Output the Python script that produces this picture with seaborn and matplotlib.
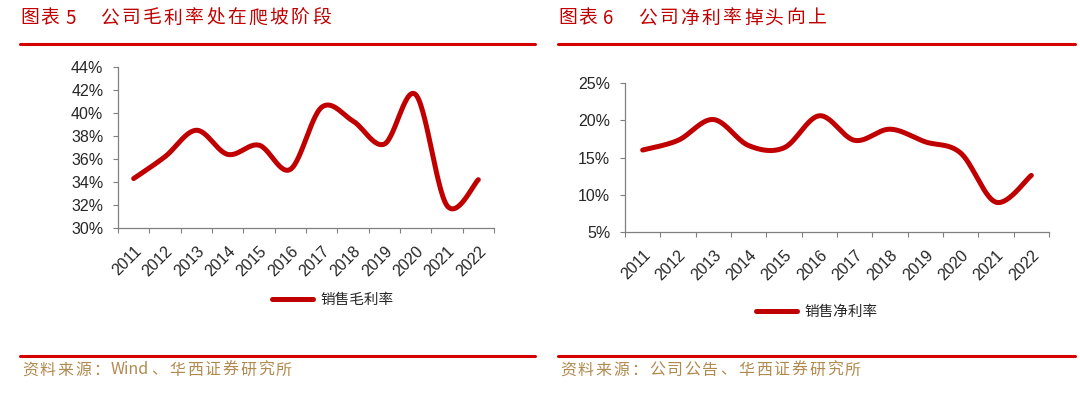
import numpy as np
import pandas as pd
import matplotlib
matplotlib.use("Agg")
import matplotlib.pyplot as plt
import matplotlib.ticker as mticker
import seaborn as sns

# 数据
years = ["2011", "2012", "2013", "2014", "2015", "2016",
         "2017", "2018", "2019", "2020", "2021", "2022"]
gross_margin = [34.3, 36.2, 38.5, 36.4, 37.2, 35.1, 40.5, 39.3, 37.3, 41.6, 31.95, 34.2]
net_margin = [16.0, 17.3, 20.1, 16.6, 16.3, 20.6, 17.3, 18.8, 17.1, 15.6, 9.0, 12.6]

sns.set_style("white")
plt.rcParams['font.family'] = ['Liberation Sans', 'Noto Sans CJK SC', 'DejaVu Sans']

RED = "#C00000"
TITLE_RED = "#C00000"
SRC_COLOR = "#B08A4E"
W, H = 1080, 397
cjk = ["Noto Sans CJK SC", "DejaVu Sans"]


def smooth(y, n=30):
    # 与Excel平滑线相同的Catmull-Rom曲线，仅用于绘制
    y = np.asarray(y, float)
    x = np.arange(len(y), dtype=float)
    xs, ys = [], []
    for i in range(len(y) - 1):
        p0 = (x[max(i - 1, 0)], y[max(i - 1, 0)])
        p1 = (x[i], y[i])
        p2 = (x[i + 1], y[i + 1])
        p3 = (x[min(i + 2, len(y) - 1)], y[min(i + 2, len(y) - 1)])
        c1 = (p1[0] + (p2[0] - p0[0]) / 6, p1[1] + (p2[1] - p0[1]) / 6)
        c2 = (p2[0] - (p3[0] - p1[0]) / 6, p2[1] - (p3[1] - p1[1]) / 6)
        t = np.linspace(0, 1, n, endpoint=(i == len(y) - 2))
        b = lambda a0, a1, a2, a3: ((1 - t) ** 3 * a0 + 3 * (1 - t) ** 2 * t * a1
                                    + 3 * (1 - t) * t ** 2 * a2 + t ** 3 * a3)
        xs.append(b(p1[0], c1[0], c2[0], p2[0]))
        ys.append(b(p1[1], c1[1], c2[1], p2[1]))
    return np.concatenate(xs), np.concatenate(ys)


def px_axes(fig, x0, y0, x1, y1):
    return fig.add_axes([x0 / W, 1 - y1 / H, (x1 - x0) / W, (y1 - y0) / H])


def spaced_text(fig, x, y, parts, pitch, **kw):
    # 逐字放置，模拟原图较宽的字距；parts 中的 (文字, 宽度) 作为整体放置
    for part in parts:
        if isinstance(part, tuple):
            if part[0]:
                fig.text(x / W, 1 - y / H, part[0], va="center", ha="left", family=cjk, **kw)
            x += part[1]
            continue
        for ch in part:
            fig.text(x / W, 1 - y / H, ch, va="center", ha="left", family=cjk, **kw)
            x += pitch


def draw_panel(ax, values, ymin, ymax, ystep, label, leg_xy):
    sx, sy = smooth(values)
    df = pd.DataFrame({"x": sx, "y": sy})
    sns.lineplot(data=df, x="x", y="y", ax=ax, color=RED, lw=3.6,
                 label=label, sort=False)
    ax.set_xlim(-0.5, len(years) - 0.5)
    ax.set_ylim(ymin, ymax)
    ax.yaxis.set_major_locator(mticker.MultipleLocator(ystep))
    ax.yaxis.set_major_formatter(mticker.FuncFormatter(lambda v, p: f"{v:.0f}%"))
    ax.set_xticks(np.arange(-0.5, len(years), 1.0))
    ax.set_xticklabels([])
    ax.set_xticks(np.arange(len(years)), minor=True)
    ax.set_xticklabels(years, minor=True, rotation=45, ha="right",
                       rotation_mode="anchor", fontsize=11.5)
    ax.tick_params(axis="x", which="minor", length=0, pad=11)
    ax.tick_params(axis="x", which="major", length=3.6, color="#808080", direction="out")
    ax.tick_params(axis="y", length=3.6, color="#808080", direction="out",
                   labelsize=11.5, pad=7)
    ax.xaxis.set_ticks_position("bottom")
    ax.yaxis.set_ticks_position("left")
    for s in ["top", "right"]:
        ax.spines[s].set_visible(False)
    for s in ["left", "bottom"]:
        ax.spines[s].set_color("#808080")
        ax.spines[s].set_linewidth(0.9)
    ax.set_xlabel("")
    ax.set_ylabel("")
    ax.legend(loc="center", bbox_to_anchor=leg_xy, frameon=False,
              handlelength=2.8, handletextpad=0.5,
              prop={"family": cjk, "size": 10.5})


fig = plt.figure(figsize=(W / 100, H / 100), dpi=100)

ax1 = px_axes(fig, 118, 67, 494, 228)
draw_panel(ax1, gross_margin, 30, 44, 2, "销售毛利率",
           ((333 - 118) / (494 - 118), -(300 - 228) / (228 - 67)))

ax2 = px_axes(fig, 625, 83, 1049, 232)
draw_panel(ax2, net_margin, 5, 25, 5, "销售净利率",
           ((817 - 625) / (1049 - 625), -(312 - 232) / (232 - 83)))

# 标题、分隔线与资料来源
spaced_text(fig, 20, 18, ["图表", ("", 5), ("5", 0)], 20, color=TITLE_RED, fontsize=13.5)
spaced_text(fig, 100, 18, ["公司毛利率处在爬坡阶段"], 21.2, color=TITLE_RED, fontsize=13.5)
spaced_text(fig, 558, 18, ["图表", ("", 5), ("6", 0)], 20, color=TITLE_RED, fontsize=13.5)
spaced_text(fig, 638, 18, ["公司净利率掉头向上"], 21.2, color=TITLE_RED, fontsize=13.5)

for x0, x1 in [(20, 535), (558, 1075)]:
    fig.add_artist(plt.Line2D([x0 / W, x1 / W], [1 - 44 / H, 1 - 44 / H],
                              color="#D40000", lw=2.2))
    fig.add_artist(plt.Line2D([x0 / W, x1 / W], [1 - 356 / H, 1 - 356 / H],
                              color="#D40000", lw=2.2))

spaced_text(fig, 22, 370, ["资料来源：", ("Wind", 40), "、华西证券研究所"], 17.8,
            color=SRC_COLOR, fontsize=11.5)
spaced_text(fig, 560, 370, ["资料来源：公司公告、华西证券研究所"], 17.8,
            color=SRC_COLOR, fontsize=11.5)

fig.savefig("out.png", dpi=100, facecolor="white")
